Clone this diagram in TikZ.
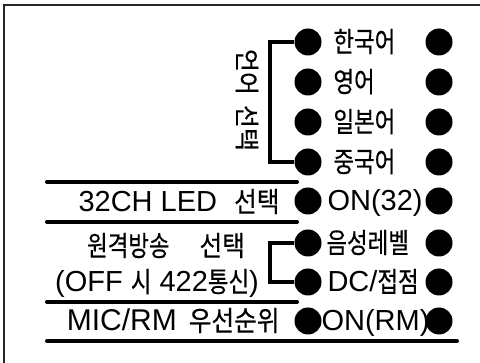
\documentclass[tikz,border=0pt]{standalone}
\usepackage{fontspec}
\setmainfont{Liberation Sans}
\newfontfamily\krfont[FakeStretch=0.8, FakeBold=0.4]{Noto Sans CJK KR}
\newfontfamily\krmid[FakeStretch=0.88, FakeBold=0.4]{Noto Sans CJK KR}
\newfontfamily\krwide[FakeBold=0.4]{Noto Sans CJK KR}
\usetikzlibrary{math, calc}

\newcommand{\kr}[1]{{\krfont\fontsize{28}{30}\selectfont #1}}
\newcommand{\krm}[1]{{\krmid\fontsize{28}{30}\selectfont #1}}

\tikzset{
    frame/.style={line width=2pt, black!85},
    rule/.style={line width=4pt, line cap=round},
    bracket/.style={line width=3.5pt},
    dot/.style={circle, fill=black, inner sep=0pt, minimum size=27pt},
    lbl/.style={inner sep=0pt, font=\fontsize{29}{30}\selectfont},
}

\begin{document}
\begin{tikzpicture}[x=1pt, y=-1pt, line width=1pt]
    \tikzmath{
        \dotleft=308;
        \dotright=439;
        \bracketx=270;
        \ruleleft=47;
        \ruleright=297;
        \textleft=333;
    }
    \useasboundingbox (0,0) rectangle (480,363);

    % frame
    \draw[frame] (4,363) -- (4,5) -- (480,5);

    % dots
    \foreach \y [count=\i] in {42,82,122,162,201,243,282,321}{%
            \node[dot] (dl\i) at (\dotleft,\y) {};
            \node[dot] (dr\i) at (\dotright,\y) {};
        }

    % rules
    \foreach \y in {182,222,302}{%
            \draw[rule] (\ruleleft,\y) -- (\ruleright,\y);
        }
    \draw[rule] (\ruleleft,341) -- (457,341);

    % language select
    \node[lbl, anchor=base west] (lang1) at (\textleft,52) {\kr{한국어}};
    \node[lbl, anchor=base west] (lang2) at (\textleft,92) {\kr{영어}};
    \node[lbl, anchor=base west] (lang3) at (\textleft,132) {\kr{일본어}};
    \node[lbl, anchor=base west] (lang4) at (\textleft,172) {\kr{중국어}};
    \node[inner sep=0pt, rotate=-90] (langsel) at (247,100) {\krwide\fontsize{25}{27}\selectfont 언어\hspace{10pt}선택};
    \coordinate (b1) at (\bracketx,0);
    \draw[bracket] (dl1.west) -- (dl1.west -| b1) -- (dl4.west -| b1) -- (dl4.west);

    % 32CH LED
    \node[lbl, anchor=base east] (led) at (280,212) {32CH LED\hspace{17pt}\krm{선택}};
    \node[lbl, anchor=base west] (ledon) at (327,211) {ON(32)};

    % remote
    \node[lbl, anchor=base] (remote) at (166,256) {\kr{원격방송}\hspace{30pt}\krm{선택}};
    \node[lbl, anchor=base] (remoteoff) at (157,292) {(OFF \kr{시} 422\kr{통신})};
    \node[lbl, anchor=base west] (voice) at (326,253) {\kr{음성레벨}};
    \node[lbl, anchor=base west] (contact) at (327,292) {DC/\kr{접점}};
    \draw[bracket] (dl6.west) -- (dl6.west -| b1) -- (dl7.west -| b1) -- (dl7.west);

    % MIC/RM
    \node[lbl, anchor=base east, font=\fontsize{30}{31}\selectfont] (prio) at (280,331) {MIC/RM\hspace{12pt}\krm{우선순위}};
    \node[lbl, anchor=base west] (rmon) at (321,331) {ON(RM)};
\end{tikzpicture}
\end{document}
